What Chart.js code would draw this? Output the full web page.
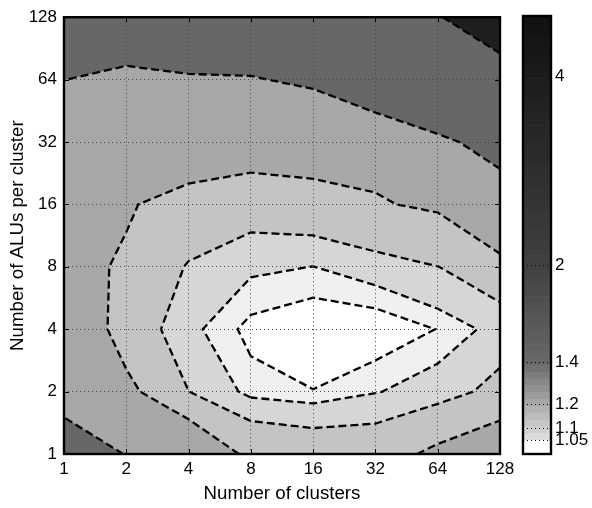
<!DOCTYPE html>
<html>
<head>
<meta charset="utf-8">
<script src="https://cdn.jsdelivr.net/npm/chart.js@4.4.1/dist/chart.umd.min.js"></script>
<style>
  html, body { margin: 0; padding: 0; background: #fff; }
  #wrap { position: relative; width: 592px; height: 508px; }
  #wrap canvas { position: absolute; top: 0; }
  #main { left: 0; }
  #cbar { left: 510px; }
</style>
</head>
<body>
<div id="wrap">
  <canvas id="main" width="592" height="508"></canvas>
  <canvas id="cbar" width="82" height="508"></canvas>
</div>
<script>
// ---- data -------------------------------------------------------------
const clusterTicks = [1, 2, 4, 8, 16, 32, 64, 128];
const aluTicks     = [1, 2, 4, 8, 16, 32, 64, 128];

// relative cost per (clusters) column, one array per ALUs-per-cluster row
const costAlu1   = [2.300, 1.984, 1.650, 1.340, 1.305, 1.300, 1.450, 1.580];
const costAlu2   = [1.790, 1.456, 1.201, 1.075, 1.052, 1.095, 1.139, 1.245];
const costAlu4   = [1.632, 1.300, 1.1205, 1.031, 1.000, 1.005, 1.052, 1.128];
const costAlu8   = [1.440, 1.385, 1.185, 1.114, 1.099, 1.140, 1.198, 1.294];
const costAlu16  = [1.500, 1.412, 1.350, 1.270, 1.300, 1.385, 1.430, 1.799];
const costAlu32  = [1.700, 1.600, 1.500, 1.525, 1.544, 1.464, 1.920, 2.152];
const costAlu64  = [2.006, 1.850, 1.950, 1.970, 2.080, 2.600, 2.535, 3.276];
const costAlu128 = [2.600, 2.530, 2.500, 2.470, 2.800, 3.200, 3.913, 5.000];
const costGrid = [costAlu1, costAlu2, costAlu4, costAlu8, costAlu16, costAlu32, costAlu64, costAlu128];

const contourLevels = [1.05, 1.1, 1.2, 1.4, 2, 4];
const colorbarTicks = [1.05, 1.1, 1.2, 1.4, 2, 4];

// ---- styles -----------------------------------------------------------
const FONT = "'Liberation Sans', Arial, Helvetica, sans-serif";
const bandFills = ['#ffffff', '#f0f0f0', '#d6d6d6', '#c4c4c4', '#a8a8a8', '#676767', '#1e1e1e'];
const colorbarSteps = 64;
const colorbarStops = [[1.0, 255], [1.047, 255], [1.055, 224], [1.1, 205], [1.2, 170],
                       [1.4, 104], [2, 64], [4, 28], [5, 16]];

// ---- contour geometry (grid index space) ------------------------------
const NX = clusterTicks.length, NY = aluTicks.length;
const val = (i, j) => costGrid[j][i];

function axisValue(arr, g) {
  const i = Math.max(0, Math.min(Math.floor(g), arr.length - 2));
  const f = g - i;
  return Math.exp(Math.log(arr[i]) + f * (Math.log(arr[i + 1]) - Math.log(arr[i])));
}

function edgeKey(a, b) {
  if (a[1] === b[1]) return 'h' + Math.min(a[0], b[0]) + ',' + a[1];
  return 'v' + a[0] + ',' + Math.min(a[1], b[1]);
}

function crossing(a, b, L) {
  const va = val(a[0], a[1]), vb = val(b[0], b[1]);
  const t = (L - va) / (vb - va);
  return [a[0] + t * (b[0] - a[0]), a[1] + t * (b[1] - a[1])];
}

// walk one cell boundary: polygon of the part >= L and the edge cuts
function cellWalk(i, j, L) {
  const cs = [[i, j], [i + 1, j], [i + 1, j + 1], [i, j + 1]];
  const poly = [], cuts = [];
  for (let k = 0; k < 4; k++) {
    const a = cs[k], b = cs[(k + 1) % 4];
    const aUp = val(a[0], a[1]) >= L, bUp = val(b[0], b[1]) >= L;
    if (aUp) poly.push(a);
    if (aUp !== bUp) {
      const p = crossing(a, b, L);
      poly.push(p);
      cuts.push({ p, key: edgeKey(a, b), exit: aUp });
    }
  }
  return { poly, cuts };
}

// chain cell segments of one level into continuous polylines
function contourPaths(L) {
  const segs = [], pt = {};
  for (let j = 0; j < NY - 1; j++) {
    for (let i = 0; i < NX - 1; i++) {
      const { cuts } = cellWalk(i, j, L);
      const n = cuts.length;
      for (let m = 0; m < n; m++) {
        if (!cuts[m].exit) continue;
        const a = cuts[m], b = cuts[(m + 1) % n];
        pt[a.key] = a.p; pt[b.key] = b.p;
        segs.push([a.key, b.key]);
      }
    }
  }
  const adj = {};
  segs.forEach((s, idx) => s.forEach(k => (adj[k] = adj[k] || []).push(idx)));
  const used = segs.map(() => false);
  const walk = start => {
    const keys = [start];
    let cur = start;
    for (;;) {
      const next = (adj[cur] || []).find(s => !used[s]);
      if (next === undefined) break;
      used[next] = true;
      const s = segs[next];
      cur = s[0] === cur ? s[1] : s[0];
      keys.push(cur);
    }
    return keys.map(k => pt[k]);
  };
  const paths = [];
  Object.keys(adj).filter(k => adj[k].length === 1).forEach(k => {
    if (adj[k].some(s => !used[s])) paths.push(walk(k));
  });
  segs.forEach((s, idx) => { if (!used[idx]) paths.push(walk(s[0])); });
  return paths;
}

const toPoint = p => ({ x: axisValue(clusterTicks, p[0]), y: axisValue(aluTicks, p[1]) });

const contourDatasets = [];
contourLevels.forEach(L => {
  contourPaths(L).forEach(path => {
    contourDatasets.push({
      data: path.map(toPoint),
      showLine: true,
      borderColor: '#000',
      borderWidth: 2.3,
      borderDash: [8, 4],
      pointRadius: 0,
      fill: false,
      tension: 0
    });
  });
});

// ---- plugins ----------------------------------------------------------
const contourFill = {
  id: 'contourFill',
  beforeDatasetsDraw(chart) {
    const { ctx, chartArea: a, scales: { x, y } } = chart;
    const px = g => x.getPixelForValue(axisValue(clusterTicks, g));
    const py = g => y.getPixelForValue(axisValue(aluTicks, g));
    ctx.save();
    ctx.beginPath();
    ctx.rect(a.left, a.top, a.right - a.left, a.bottom - a.top);
    ctx.clip();
    ctx.fillStyle = bandFills[0];
    ctx.fillRect(a.left, a.top, a.right - a.left, a.bottom - a.top);
    contourLevels.forEach((L, k) => {
      ctx.beginPath();
      for (let j = 0; j < NY - 1; j++) {
        for (let i = 0; i < NX - 1; i++) {
          const { poly } = cellWalk(i, j, L);
          if (poly.length < 3) continue;
          ctx.moveTo(px(poly[0][0]), py(poly[0][1]));
          for (let m = 1; m < poly.length; m++) ctx.lineTo(px(poly[m][0]), py(poly[m][1]));
          ctx.closePath();
        }
      }
      ctx.fillStyle = bandFills[k + 1];
      ctx.fill();
    });
    ctx.restore();
  }
};

const plotFrame = {
  id: 'plotFrame',
  afterDraw(chart) {
    const { ctx, chartArea: a, scales: { x, y } } = chart;
    ctx.save();
    ctx.strokeStyle = '#000';
    ctx.lineWidth = 1;
    ctx.beginPath();
    x.ticks.forEach(t => {
      const p = Math.round(x.getPixelForValue(t.value)) + 0.5;
      ctx.moveTo(p, a.bottom); ctx.lineTo(p, a.bottom - 5);
      ctx.moveTo(p, a.top); ctx.lineTo(p, a.top + 5);
    });
    y.ticks.forEach(t => {
      const p = Math.round(y.getPixelForValue(t.value)) + 0.5;
      ctx.moveTo(a.left, p); ctx.lineTo(a.left + 5, p);
      ctx.moveTo(a.right, p); ctx.lineTo(a.right - 5, p);
    });
    ctx.stroke();
    ctx.lineWidth = 2.4;
    ctx.strokeRect(a.left, a.top, a.right - a.left, a.bottom - a.top);
    ctx.restore();
  }
};

const barFrame = {
  id: 'barFrame',
  afterDraw(chart) {
    const { ctx, chartArea: a } = chart;
    ctx.save();
    ctx.strokeStyle = '#000';
    ctx.lineWidth = 2.4;
    ctx.strokeRect(a.left, a.top, a.right - a.left, a.bottom - a.top);
    ctx.restore();
  }
};

const tickFont = { family: FONT, size: 17 };
const titleFont = { family: FONT, size: 18.7 };

// ---- main contour chart -----------------------------------------------
new Chart(document.getElementById('main'), {
  type: 'scatter',
  data: { datasets: contourDatasets },
  options: {
    responsive: false,
    animation: false,
    events: [],
    layout: { padding: { left: 0, top: 16, right: 92, bottom: 0 } },
    plugins: { legend: { display: false }, tooltip: { enabled: false } },
    scales: {
      x: {
        type: 'logarithmic',
        position: 'bottom',
        min: clusterTicks[0],
        max: clusterTicks[clusterTicks.length - 1],
        afterBuildTicks: s => { s.ticks = clusterTicks.map(v => ({ value: v })); },
        afterFit: s => { s.height = 54; },
        ticks: { autoSkip: false, maxRotation: 0, padding: 5, color: '#000', font: tickFont,
                 callback: v => String(v) },
        grid: { color: '#444', lineWidth: 1, drawTicks: false, z: 1 },
        border: { display: false, dash: [1, 3] },
        title: { display: true, text: 'Number of clusters', color: '#000', font: titleFont,
                 padding: { top: 0, bottom: 3 } }
      },
      y: {
        type: 'logarithmic',
        position: 'left',
        min: aluTicks[0],
        max: aluTicks[aluTicks.length - 1],
        afterBuildTicks: s => { s.ticks = aluTicks.map(v => ({ value: v })); },
        afterFit: s => { s.width = 64; },
        ticks: { autoSkip: false, padding: 7, color: '#000', font: tickFont,
                 callback: v => String(v) },
        grid: { color: '#444', lineWidth: 1, drawTicks: false, z: 1 },
        border: { display: false, dash: [1, 3] },
        title: { display: true, text: 'Number of ALUs per cluster', color: '#000', font: titleFont,
                 padding: { top: 7, bottom: 0 } }
      }
    }
  },
  plugins: [contourFill, plotFrame]
});

// ---- colour bar -------------------------------------------------------
function grayAt(v) {
  const lv = Math.log(v);
  for (let k = 0; k < colorbarStops.length - 1; k++) {
    const [v0, g0] = colorbarStops[k], [v1, g1] = colorbarStops[k + 1];
    if (v <= v1) {
      const f = (lv - Math.log(v0)) / (Math.log(v1) - Math.log(v0));
      return Math.round(g0 + Math.max(0, Math.min(1, f)) * (g1 - g0));
    }
  }
  return colorbarStops[colorbarStops.length - 1][1];
}

// colour bar spans the full range of the cost grid
const allCosts = costGrid.flat();
const cbLo = Math.min(...allCosts), cbHi = Math.max(...allCosts);
const cbRatio = Math.log(cbHi / cbLo);
const colorbarDatasets = [];
for (let k = 0; k < colorbarSteps; k++) {
  const lo = cbLo * Math.exp(cbRatio * k / colorbarSteps);
  const hi = cbLo * Math.exp(cbRatio * (k + 1) / colorbarSteps);
  const g = grayAt(Math.sqrt(lo * hi));
  colorbarDatasets.push({
    data: [[lo, hi]],
    backgroundColor: `rgb(${g},${g},${g})`,
    borderWidth: 0,
    barPercentage: 1,
    categoryPercentage: 1,
    grouped: false
  });
}

new Chart(document.getElementById('cbar'), {
  type: 'bar',
  data: { labels: [''], datasets: colorbarDatasets },
  options: {
    responsive: false,
    animation: false,
    events: [],
    layout: { padding: { left: 13, top: 16, right: 0, bottom: 54 } },
    plugins: { legend: { display: false }, tooltip: { enabled: false } },
    scales: {
      x: { display: false },
      y: {
        type: 'logarithmic',
        position: 'right',
        min: cbLo,
        max: cbHi,
        afterBuildTicks: s => { s.ticks = colorbarTicks.map(v => ({ value: v })); },
        afterFit: s => { s.width = 41; },
        ticks: { autoSkip: false, padding: 4, color: '#000', font: tickFont,
                 callback: v => String(v) },
        grid: { color: '#000', lineWidth: 1, drawTicks: false, z: 1 },
        border: { display: false, dash: [1, 3] }
      }
    }
  },
  plugins: [barFrame]
});
</script>
</body>
</html>
